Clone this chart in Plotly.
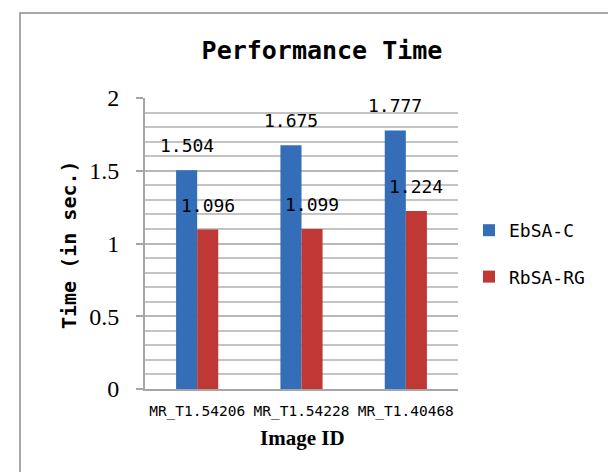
import plotly.graph_objects as go

categories = ["MR_T1.54206", "MR_T1.54228", "MR_T1.40468"]
ebsa_c = [1.504, 1.675, 1.777]
rbsa_rg = [1.096, 1.099, 1.224]
series_names = ["EbSA-C", "RbSA-RG"]
y_ticks = [0, 0.5, 1, 1.5, 2]
y_tick_text = ["0", "0.5", "1", "1.5", "2"]

W, H = 616, 472
L, R, T, B = 137, 450, 90, 381
pw, ph = R - L, B - T

def px(x):
    return (x - L) / pw

def py(y):
    return (B - y) / ph

mono = "DejaVu Sans Mono"
serif = "Liberation Serif"

fig = go.Figure()
fig.add_trace(go.Bar(name=series_names[0], x=categories, y=ebsa_c,
                     marker=dict(color="#346db8", line=dict(width=0)),
                     legendgroup="a"))
fig.add_trace(go.Bar(name=series_names[1], x=categories, y=rbsa_rg,
                     marker=dict(color="#bf3836", line=dict(width=0)),
                     legendgroup="b"))

annotations = []
for vals, shift in ((ebsa_c, -10.5), (rbsa_rg, 10.5)):
    for c, v in zip(categories, vals):
        annotations.append(dict(x=c, y=v, xref="x", yref="y", text=f"{v:.3f}",
                                showarrow=False, xshift=shift, yshift=12,
                                xanchor="center", yanchor="bottom",
                                font=dict(family=mono, size=18, color="#000")))

annotations.append(dict(x=px(61), y=py(237), xref="paper", yref="paper",
                        xanchor="center", yanchor="middle",
                        text="<b>Time (in sec.)</b>", textangle=-90, showarrow=False,
                        font=dict(family=mono, size=20, color="#000")))
annotations.append(dict(x=px(294), y=py(430), xref="paper", yref="paper",
                        xanchor="center", yanchor="middle",
                        text="<b>Image ID</b>", showarrow=False,
                        font=dict(family=serif, size=21, color="#000")))

fig.update_layout(
    width=W, height=H,
    margin=dict(l=L, r=W - R, t=T, b=H - B, autoexpand=False),
    paper_bgcolor="white", plot_bgcolor="white",
    title=dict(text="<b>Performance Time</b>", x=314 / W, xref="container",
               y=1 - 42 / H, yref="container", xanchor="center", yanchor="middle",
               font=dict(family=mono, size=25, color="#000")),
    barmode="group", bargap=0.596, bargroupgap=0,
    showlegend=True,
    legend=dict(x=px(461), y=py(204), xanchor="left", yanchor="top",
                traceorder="grouped", tracegroupgap=20,
                font=dict(family=mono, size=18, color="#000"),
                bgcolor="rgba(0,0,0,0)"),
    annotations=annotations,
    shapes=[dict(type="rect", xref="paper", yref="paper",
                 x0=px(12), x1=px(640), y0=py(500), y1=py(5),
                 line=dict(color="#8c8c8c", width=1.5), layer="below")],
)

fig.update_yaxes(range=[0, 2], tickvals=y_ticks, ticktext=y_tick_text,
                 ticks="outside", ticklen=7, tickcolor="#a6a6a6", tickwidth=2,
                 ticklabelstandoff=12,
                 showgrid=True, gridcolor="#b8b8b8", gridwidth=2,
                 minor=dict(dtick=0.1, showgrid=True, gridcolor="#c4c4c4", gridwidth=1.5),
                 showline=True, linecolor="#a6a6a6", linewidth=2,
                 zeroline=False,
                 tickfont=dict(family=serif, size=24, color="#000"))
fig.update_xaxes(showline=True, linecolor="#a6a6a6", linewidth=2,
                 ticks="", ticklabelstandoff=8,
                 tickfont=dict(family=mono, size=14.5, color="#000"))

fig.write_html("out.html")
